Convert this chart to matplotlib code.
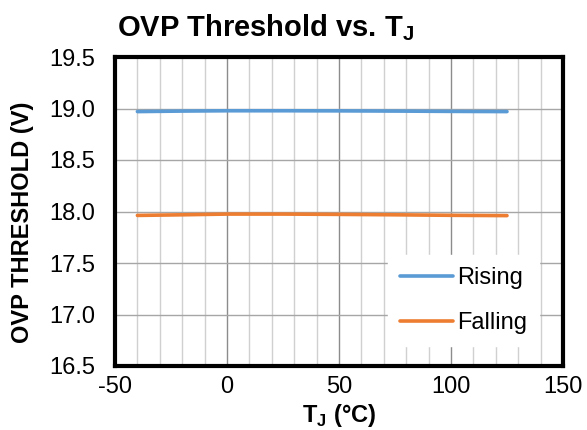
import matplotlib.pyplot as plt
from matplotlib.ticker import MultipleLocator

plt.rcParams['font.family'] = ['Liberation Sans', 'DejaVu Sans']
plt.rcParams['mathtext.fontset'] = 'custom'
plt.rcParams['mathtext.rm'] = 'Liberation Sans'
plt.rcParams['mathtext.bf'] = 'Liberation Sans:bold'
plt.rcParams['axes.unicode_minus'] = False

temps   = [-40, -20, 0, 25, 50, 75, 100, 125]
rising  = [18.970, 18.975, 18.978, 18.978, 18.977, 18.975, 18.972, 18.970]
falling = [17.962, 17.968, 17.975, 17.975, 17.972, 17.968, 17.963, 17.960]

fig = plt.figure(figsize=(5.87, 4.30), dpi=100)
ax = fig.add_axes([115/587, 1-366/430, 448/587, 309/430])

ax.plot(temps, rising, color="#5b9bd5", lw=2.6, label="Rising", solid_capstyle="round")
ax.plot(temps, falling, color="#ed7d31", lw=2.6, label="Falling", solid_capstyle="round")

ax.set_xlim(-50, 150)
ax.set_ylim(16.5, 19.5)
ax.xaxis.set_major_locator(MultipleLocator(50))
ax.xaxis.set_minor_locator(MultipleLocator(10))
ax.yaxis.set_major_locator(MultipleLocator(0.5))
ax.yaxis.set_major_formatter(plt.FormatStrFormatter('%.1f'))
ax.grid(which="major", axis="x", color="#8c8c8c", lw=1)
ax.grid(which="minor", axis="x", color="#d0d0d0", lw=1)
ax.grid(which="major", axis="y", color="#a6a6a6", lw=1)
ax.set_axisbelow(True)
ax.tick_params(which="both", length=0, labelsize=17)
ax.tick_params(axis="y", pad=14)
ax.tick_params(axis="x", pad=7)
for s in ax.spines.values():
    s.set_linewidth(3)

ax.set_xlabel(r"T$_\mathbf{J}$ (°C)", fontsize=17, fontweight="bold")
ax.xaxis.set_label_coords(0.5, -0.116)
ax.set_ylabel("OVP THRESHOLD (V)", fontsize=17, fontweight="bold", labelpad=11)
ax.yaxis.label.set_y(0.466)

leg = ax.legend(loc="upper left", bbox_to_anchor=(0.609, 0.359), fontsize=17,
                frameon=True, fancybox=False, edgecolor="white", framealpha=1,
                handlelength=2.25, handletextpad=0.2, labelspacing=1.0,
                borderaxespad=0, borderpad=0.5)

fig.text(117/587, 1-28/430, r"OVP Threshold vs. T$_\mathbf{J}$", fontsize=21,
         fontweight="bold", va="center", ha="left")

fig.savefig("out.png", dpi=100)
